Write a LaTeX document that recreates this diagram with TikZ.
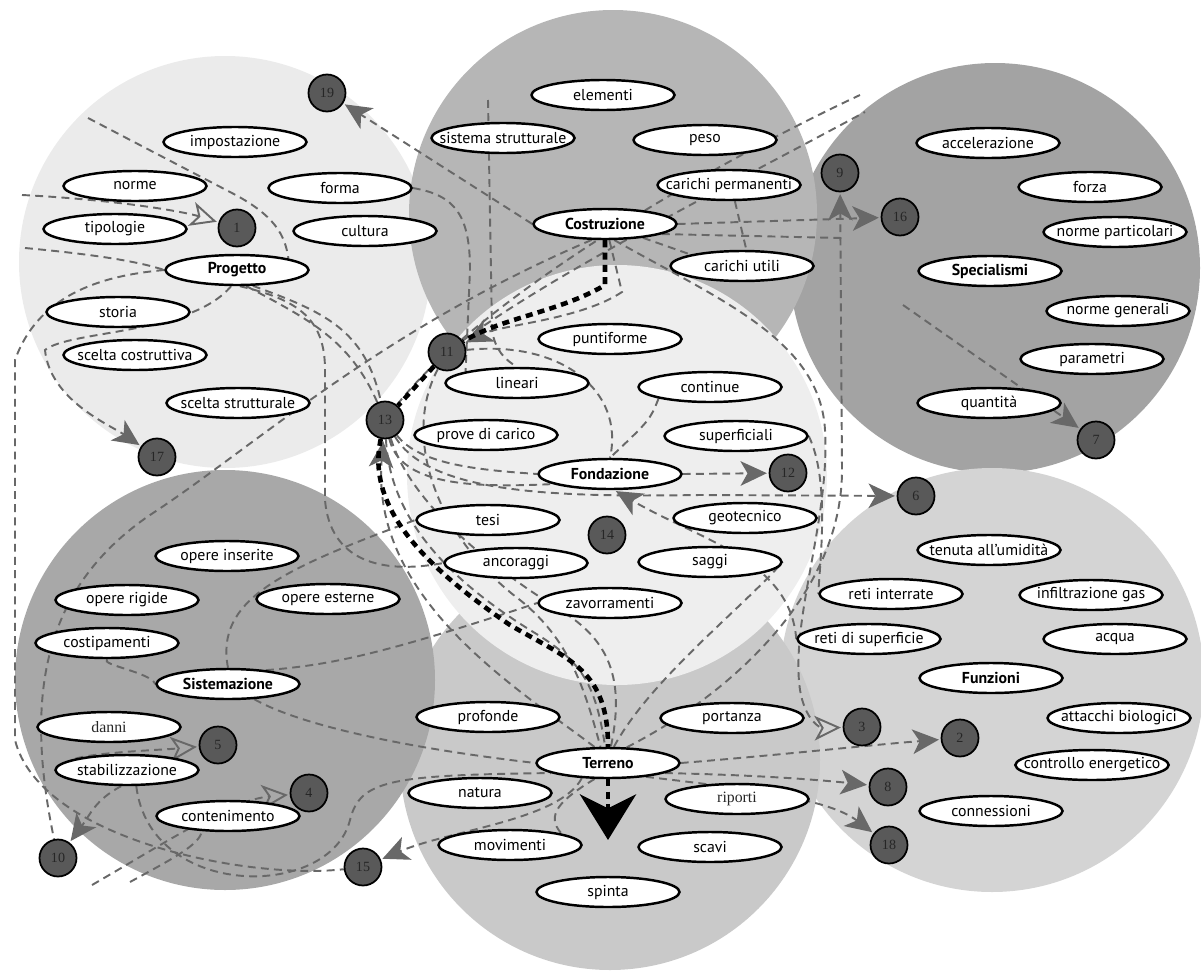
\documentclass[tikz,border=0pt]{standalone}
\usepackage{fontspec}
\setmainfont{PT Sans}
\newfontfamily\numfont{Liberation Serif}
\usetikzlibrary{shapes.geometric,arrows.meta,backgrounds}

\definecolor{progettobg}{HTML}{EBEBEB}
\definecolor{costrbg}{HTML}{B6B6B6}
\definecolor{specbg}{HTML}{A3A3A3}
\definecolor{fondbg}{HTML}{EEEEEE}
\definecolor{sistbg}{HTML}{A8A8A8}
\definecolor{terrbg}{HTML}{C9C9C9}
\definecolor{funzbg}{HTML}{D4D4D4}
\definecolor{linkgray}{HTML}{686868}
\definecolor{numfill}{HTML}{595959}
\definecolor{numtext}{HTML}{262626}

\begin{document}
\begin{tikzpicture}[x=0.2mm, y=-0.2mm,
  concept/.style={ellipse, draw, line width=1.4pt, fill=white, minimum width=28.6mm,
    minimum height=6mm, inner xsep=-8pt, inner ysep=0pt, font=\fontsize{9}{10}\selectfont},
  main/.style={concept, font=\fontsize{9}{10}\selectfont\bfseries},
  oldstyle/.style={concept, font=\numfont\fontsize{9}{10}\selectfont, text=numtext},
  num/.style={circle, draw, line width=1pt, fill=numfill, minimum size=7.4mm,
    inner sep=0pt, text=numtext, font=\numfont\fontsize{8}{9}\selectfont},
  link/.style={draw=linkgray, line width=1.1pt, dash pattern=on 4.5pt off 3pt},
  arr/.style={link, -{Stealth[length=15pt, width=14pt, inset=4pt]}, shorten >=1pt},
  oarr/.style={link, -{Stealth[open, length=15pt, width=14pt, inset=4pt]}, shorten >=1pt},
  mainroute/.style={black, line width=2.6pt, dash pattern=on 4pt off 3pt},
  bigarrow/.style={mainroute, -{Stealth[length=26pt, width=32pt, inset=8pt]}},
]
\useasboundingbox (0,0) rectangle (1201,974);

% Progetto
\node[main] (progetto) at (237,270) {Progetto};
\node[concept] (impostazione) at (235,142) {impostazione};
\node[concept] (norme) at (135,186) {norme};
\node[concept] (forma) at (340,188) {forma};
\node[concept] (tipologie) at (115,229) {tipologie};
\node[concept] (cultura) at (365,231) {cultura};
\node[concept] (storia) at (118,312) {storia};
\node[concept] (sceltacos) at (135,355) {scelta costruttiva};
\node[concept] (sceltastr) at (238,403) {scelta strutturale};

% Costruzione
\node[main] (costruzione) at (605,224) {Costruzione};
\node[concept] (elementi) at (603,95) {elementi};
\node[concept] (sisstr) at (503,138) {sistema strutturale};
\node[concept] (peso) at (705,140) {peso};
\node[concept] (carperm) at (729,185) {carichi permanenti};
\node[concept] (carutili) at (742,266) {carichi utili};

% Specialismi
\node[main] (specialismi) at (990,271) {Specialismi};
\node[concept] (accel) at (988,143) {accelerazione};
\node[concept] (forza) at (1090,187) {forza};
\node[concept] (normepart) at (1115,232) {norme particolari};
\node[concept] (normegen) at (1118,311) {norme generali};
\node[concept] (parametri) at (1092,359) {parametri};
\node[concept] (quantita) at (989,403) {quantità};

% Fondazione
\node[main] (fondazione) at (610,474) {Fondazione};
\node[concept] (puntiforme) at (610,339) {puntiforme};
\node[concept] (lineari) at (517,383) {lineari};
\node[concept] (continue) at (710,387) {continue};
\node[concept] (provecarico) at (486,435) {prove di carico};
\node[concept] (superficiali) at (736,436) {superficiali};
\node[concept] (tesi) at (488,520) {tesi};
\node[concept] (geotecnico) at (745,518) {geotecnico};
\node[concept] (ancoraggi) at (516,563) {ancoraggi};
\node[concept] (saggi) at (710,562) {saggi};
\node[concept] (zavorramenti) at (610,603) {zavorramenti};

% Sistemazione
\node[main] (sistemazione) at (228,684) {Sistemazione};
\node[concept] (opins) at (227,556) {opere inserite};
\node[concept] (oprig) at (127,600) {opere rigide};
\node[concept] (opest) at (328,599) {opere esterne};
\node[concept] (costip) at (107,643) {costipamenti};
\node[oldstyle] (danni) at (109,727) {danni};
\node[concept] (stabil) at (127,770) {stabilizzazione};
\node[concept] (conten) at (228,816) {contenimento};

% Terreno
\node[main] (terreno) at (608,763) {Terreno};
\node[concept] (profonde) at (488,717) {profonde};
\node[concept] (portanza) at (732,718) {portanza};
\node[concept] (natura) at (480,793) {natura};
\node[oldstyle] (riporti) at (737,799) {riporti};
\node[concept] (movimenti) at (510,845) {movimenti};
\node[concept] (scavi) at (710,847) {scavi};
\node[concept] (spinta) at (608,892) {spinta};

% Funzioni
\node[main] (funzioni) at (991,678) {Funzioni};
\node[concept] (tenuta) at (989,550) {tenuta all'umidità};
\node[concept] (retiint) at (891,594) {reti interrate};
\node[concept] (infgas) at (1091,595) {infiltrazione gas};
\node[concept] (retisup) at (869,639) {reti di superficie};
\node[concept] (acqua) at (1115,639) {acqua};
\node[concept] (attacchi) at (1119,718) {attacchi biologici};
\node[concept] (controllo) at (1092,765) {controllo energetico};
\node[concept] (connessioni) at (991,811) {connessioni};

% numbered marks
\node[num] (n1) at (237,228) {1};
\node[num] (n2) at (960,738) {2};
\node[num] (n3) at (862,727) {3};
\node[num] (n4) at (309,793) {4};
\node[num] (n5) at (218,745) {5};
\node[num] (n6) at (916,496) {6};
\node[num] (n7) at (1096,440) {7};
\node[num] (n8) at (888,787) {8};
\node[num] (n9) at (840,173) {9};
\node[num] (n10) at (58,858) {10};
\node[num] (n11) at (447,352) {11};
\node[num] (n12) at (788,473) {12};
\node[num] (n13) at (385,420) {13};
\node[num] (n14) at (607,535) {14};
\node[num] (n15) at (363,867) {15};
\node[num] (n16) at (900,217) {16};
\node[num] (n17) at (157,457) {17};
\node[num] (n18) at (889,845) {18};
\node[num] (n19) at (327,93) {19};

% free ends
\coordinate (pl1) at (22,195);
\coordinate (pa) at (88,118);
\coordinate (pb) at (25,248);
\coordinate (sp7) at (903,305);
\coordinate (sw4) at (92,885);
\coordinate (sw4b) at (130,882);
\coordinate (ne1) at (860,95);
\coordinate (ne2) at (865,112);
\coordinate (cs) at (488,100);
\coordinate (ce) at (842,238);

\begin{scope}[on background layer]
  % zones
  \fill[progettobg] (225,262) circle (206);
  \fill[specbg] (995,268) circle (205);
  \fill[costrbg] (613,214) circle (204);
  \fill[funzbg] (992,680) circle (212);
  \fill[terrbg] (610,760) circle (210);
  \fill[sistbg] (225,680) circle (210);
  \fill[fondbg] (617,475) circle (210);

  % links without tips
  \draw[link] (pa) -- (230,192) .. controls (275,215) and (285,235) .. (progetto.north east);
  \draw[link] (pb) .. controls (100,255) and (140,262) .. (progetto.west);
  \draw[link] (progetto.-60) .. controls (310,320) and (350,340) .. (n13);
  \draw[link] (progetto.-45) .. controls (325,312) and (365,330) .. (n13);
  \draw[link] (progetto.-80) .. controls (300,300) and (325,320) .. (325,370) -- (325,500)
    .. controls (330,560) and (380,575) .. (ancoraggi.west);
  \draw[link] (progetto.west) .. controls (110,275) and (40,290) .. (15,360) -- (15,740)
    .. controls (40,840) and (250,880) .. (n15);
  \draw[link] (forma.east) .. controls (455,195) and (470,215) .. (470,270) -- (lineari.north west);
  \draw[link] (costruzione.-130) .. controls (380,330) and (250,450) .. (150,515)
    .. controls (40,590) and (25,700) .. (n10);
  \draw[link] (n13) .. controls (480,300) and (700,170) .. (ne1);
  \draw[link] (n11) .. controls (560,270) and (720,190) .. (ne2);
  \draw[link] (cs) -- (492,330) .. controls (495,350) and (505,360) .. (lineari.north);
  \draw[link] (costruzione.-10) -- (ce);
  \draw[link] (carperm.-70) -- (carutili.75);
  \draw[link] (costruzione.-20) -- (carutili.north west);
  \draw[link] (n11) .. controls (560,340) and (625,390) .. (fondazione.north);
  \draw[link] (continue.south west) .. controls (650,420) .. (fondazione.north);
  \draw[link] (n13) .. controls (420,465) and (480,470) .. (fondazione.west);
  \draw[link] (n13) .. controls (400,485) and (470,488) .. (fondazione.-170);
  \draw[link] (n13) .. controls (390,520) and (450,580) .. (530,630)
    .. controls (580,660) and (595,680) .. (terreno.100);
  \draw[link] (n13) .. controls (410,500) and (480,560) .. (560,610)
    .. controls (610,640) and (625,680) .. (terreno.80);
  \draw[link] (n11) .. controls (400,440) and (440,540) .. (520,600)
    .. controls (570,640) and (585,690) .. (terreno.115);
  \draw[link] (terreno.70) .. controls (650,680) and (740,610) .. (saggi.east);
  \draw[link] (superficiali.east) .. controls (830,480) and (820,560) .. (retiint.west);
  \draw[link] (costip.south) .. controls (100,665) and (150,672) .. (sistemazione.west);
  \draw[link] (sistemazione.north) .. controls (215,600) and (280,570) .. (tesi.west);
  \draw[link] (sistemazione.20) .. controls (330,665) and (380,655) .. (zavorramenti.west);
  \draw[link] (sistemazione.-30) .. controls (290,720) and (380,745) .. (terreno.west);
  \draw[link] (stabil.-60) .. controls (150,900) and (330,900) .. (350,820)
    .. controls (360,780) and (390,775) .. (terreno.-170);
  \draw[link] (sw4b) .. controls (170,860) and (200,845) .. (conten.-150);
  \draw[link] (terreno.-130) .. controls (560,800) and (545,815) .. (movimenti.north east);

  % links to the marks
  \draw[arr] (costruzione.west) -- (n19);
  \draw[oarr] (pl1) .. controls (120,200) and (185,212) .. (n1);
  \draw[arr] (stabil.-110) .. controls (95,800) and (90,815) .. (n10);
  \draw[arr] (progetto.-110) .. controls (190,335) and (70,330) .. (45,350)
    .. controls (50,400) and (110,425) .. (n17);
  \draw[arr] (costruzione.east) -- (n16);
  \draw[arr] (terreno.40) .. controls (720,700) and (842,600) .. (842,470) -- (n9);
  \draw[arr] (sp7) -- (n7);
  \draw[arr] (fondazione.east) -- (n12);
  \draw[arr] (n13) .. controls (430,495) and (560,497) .. (700,495) -- (n6);
  \draw[arr] (retisup.west) .. controls (790,560) and (700,540) .. (fondazione.-75);
  \draw[arr] (costruzione.-75) -- (622,292) .. controls (580,320) and (500,325) .. (n11);
  \draw[arr] (terreno.130) .. controls (520,690) and (370,600) .. (n13);
  \draw[arr] (terreno.-150) .. controls (560,820) and (450,830) .. (n15);
  \draw[oarr] (stabil.north west) .. controls (100,752) and (160,750) .. (n5);
  \draw[oarr] (sw4) .. controls (170,840) and (230,800) .. (n4);
  \draw[oarr] (costruzione.-60) .. controls (720,300) and (820,340) .. (825,430)
    .. controls (830,520) and (790,620) .. (800,690) .. controls (805,720) and (820,728) .. (n3);
  \draw[arr] (terreno.east) .. controls (780,755) and (870,745) .. (n2);
  \draw[arr] (terreno.-10) .. controls (760,775) and (820,780) .. (n8);
  \draw[arr] (terreno.-20) .. controls (760,790) and (830,800) .. (n18);

  % main route
  \draw[mainroute] (costruzione.south) -- (605,285) .. controls (560,312) and (500,318) .. (n11);
  \draw[mainroute] (n11) -- (n13);
  \draw[mainroute] (n13) .. controls (365,510) and (430,570) .. (510,625)
    .. controls (570,660) and (608,670) .. (terreno.north);
  \draw[bigarrow] (terreno.south) -- (608,840);
\end{scope}
\end{tikzpicture}
\end{document}
